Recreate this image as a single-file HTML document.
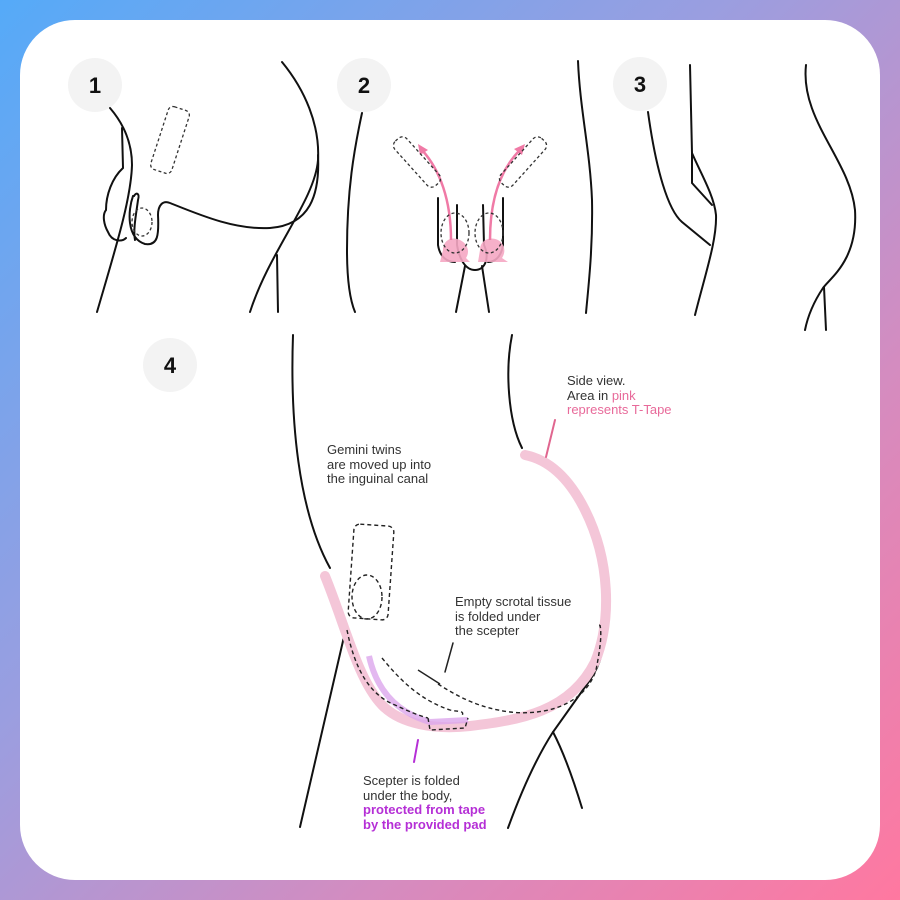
<!DOCTYPE html>
<html><head><meta charset="utf-8"><style>
html,body{margin:0;padding:0}
body{width:900px;height:900px;overflow:hidden;background:linear-gradient(135deg,#55aaf8 0%,#9a9ee0 40%,#d48cc0 70%,#ff78a0 100%);position:relative;font-family:"Liberation Sans",sans-serif}
.card{position:absolute;left:20px;top:20px;width:860px;height:860px;background:#fff;border-radius:55px}
svg{position:absolute;left:0;top:0}
</style></head><body>
<div class="card"></div>
<svg width="900" height="900" viewBox="0 0 900 900">
<g fill="#f3f3f3">
<circle cx="95" cy="85" r="27"/><circle cx="364" cy="85" r="27"/><circle cx="640" cy="84" r="27"/><circle cx="170" cy="365" r="27"/>
</g>
<g font-family="Liberation Sans,sans-serif" font-weight="bold" font-size="22" fill="#111" text-anchor="middle">
<text x="95" y="93">1</text><text x="364" y="93">2</text><text x="640" y="92">3</text><text x="170" y="373">4</text>
</g>
<g fill="none" stroke="#111" stroke-width="2" stroke-linecap="round">
<!-- panel 1 -->
<path d="M110,108 C122,122 132,140 132,165 C131,200 115,250 97,312"/>
<path d="M122,128 L123,168 C112,178 106,195 106,210 C102,215 104,225 108,232 C112,242 122,242 126,238"/>
<path d="M133,196 C128,210 126,238 145,244 C158,246 159,235 158,215 C158,205 163,200 170,203 C200,215 235,230 270,228 C310,225 320,195 318,155"/>
<path d="M134,196 C136,192 140,193 138,200 C136,215 133,230 135,240"/>
<path d="M282,62 C305,90 320,125 318,160 C315,200 270,250 250,312"/>
<path d="M277,255 L278,312"/>
<!-- panel 2 -->
<path d="M362,113 C354,150 347,190 347,250 C347,280 350,300 355,312"/>
<path d="M438,198 L438,245 C440,258 448,262 455,262"/>
<path d="M457,205 L457,245 C459,258 465,270 475,270 C485,270 490,258 484,245 L483,205"/>
<path d="M503,198 L503,245 C501,258 494,262 488,262"/>
<path d="M465,266 L456,312"/><path d="M482,266 L489,312"/>
<!-- panel 3 -->
<path d="M578,61 C580,110 590,150 592,200 C593,250 588,290 586,313"/>
<path d="M648,112 C656,170 668,210 682,222 L710,245"/>
<path d="M690,65 L692,153 C700,172 714,195 716,215 C717,240 705,275 695,315"/>
<path d="M692,153 L692,183 L712,205"/>
<path d="M806,65 C800,120 850,160 855,210 C858,260 830,278 823,288 C815,300 808,315 805,330"/>
<path d="M824,287 L826,330"/>
<!-- panel 4 -->
<path d="M293,335 C290,420 298,510 330,568"/>
<path d="M346,628 L300,827"/>
<path d="M512,335 C505,370 508,420 522,448"/>
<path d="M600,625 C606,650 600,665 590,680 L553,732 C535,760 520,795 508,828"/>
<path d="M553,732 C565,755 575,785 582,808"/>
</g>
<!-- panel 2 pink -->
<g fill="#f6a8c4" opacity="0.9">
<path d="M443,250 C443,240 452,236 460,240 C468,244 470,252 466,258 L470,262 L440,262 Z"/>
<path d="M480,250 C480,240 490,236 498,240 C505,244 506,252 502,258 L508,262 L478,262 Z"/>
</g>
<g fill="none" stroke="#f07aa6" stroke-width="2.5">
<path d="M451,240 C451,200 440,170 422,150"/><path d="M490,240 C490,200 500,170 520,150"/>
</g>
<g fill="#f07aa6"><path d="M418,144 L428,150 L420,155 Z"/><path d="M525,144 L514,149 L522,155 Z"/></g>
<!-- dashed -->
<g fill="none" stroke="#333" stroke-width="1.3" stroke-dasharray="3,2.5">
<rect x="-11" y="-33" width="22" height="66" rx="5" transform="translate(170,140) rotate(18)"/>
<ellipse cx="142" cy="222" rx="10" ry="14"/>
<rect x="-8" y="-30" width="16" height="60" rx="6" transform="translate(417,162) rotate(-42)"/>
<rect x="-8" y="-30" width="16" height="60" rx="6" transform="translate(523,162) rotate(42)"/>
<ellipse cx="455" cy="233" rx="14" ry="20"/><ellipse cx="489" cy="233" rx="14" ry="20"/>
</g>
<!-- panel 4 pink band -->
<path d="M325,576 C345,625 358,680 382,705 C400,724 435,730 470,726 C520,720 570,712 595,662 C612,620 610,560 585,510 C570,480 550,460 525,455" fill="none" stroke="#f4c6d8" stroke-width="10" stroke-linecap="round"/>
<path d="M369,656 C376,688 395,712 430,722 L468,720" fill="none" stroke="#dca6ec" stroke-width="6" opacity="0.8"/>
<g fill="none" stroke="#222" stroke-width="1.4" stroke-dasharray="4,3">
<rect x="-20" y="-47" width="40" height="94" rx="6" transform="translate(371,572) rotate(4)"/>
<ellipse cx="367" cy="597" rx="15" ry="22"/>
<path d="M347,630 C355,670 370,695 395,705 C410,712 420,716 428,718"/>
<path d="M382,658 C400,680 420,700 450,710 C458,712 465,710 462,716"/>
<path d="M438,684 C460,698 480,708 510,712 C545,716 585,705 596,670 C600,650 602,635 600,625"/>
<path d="M428,718 L430,730 L465,728 L468,718"/>
</g>
<path d="M418,670 L440,684" stroke="#222" stroke-width="1.4"/>
<g stroke-width="2" stroke-linecap="round">
<line x1="555" y1="420" x2="546" y2="457" stroke="#e0668f"/>
<line x1="453" y1="643" x2="445" y2="672" stroke="#222" stroke-width="1.5"/>
<line x1="418" y1="740" x2="414" y2="762" stroke="#b52fd6"/>
</g>
<g font-family="Liberation Sans,sans-serif" font-size="13" fill="#333">
<text x="567" y="385">Side view.</text>
<text x="567" y="400">Area in <tspan fill="#e86a9a">pink</tspan></text>
<text x="567" y="414" fill="#e86a9a">represents T-Tape</text>
<text x="327" y="454">Gemini twins</text>
<text x="327" y="469">are moved up into</text>
<text x="327" y="483">the inguinal canal</text>
<text x="455" y="606">Empty scrotal tissue</text>
<text x="455" y="621">is folded under</text>
<text x="455" y="635">the scepter</text>
<text x="363" y="785">Scepter is folded</text>
<text x="363" y="800">under the body,</text>
<text x="363" y="814" fill="#b52fd6" font-weight="bold">protected from tape</text>
<text x="363" y="829" fill="#b52fd6" font-weight="bold">by the provided pad</text>
</g>
</svg>
</body></html>
